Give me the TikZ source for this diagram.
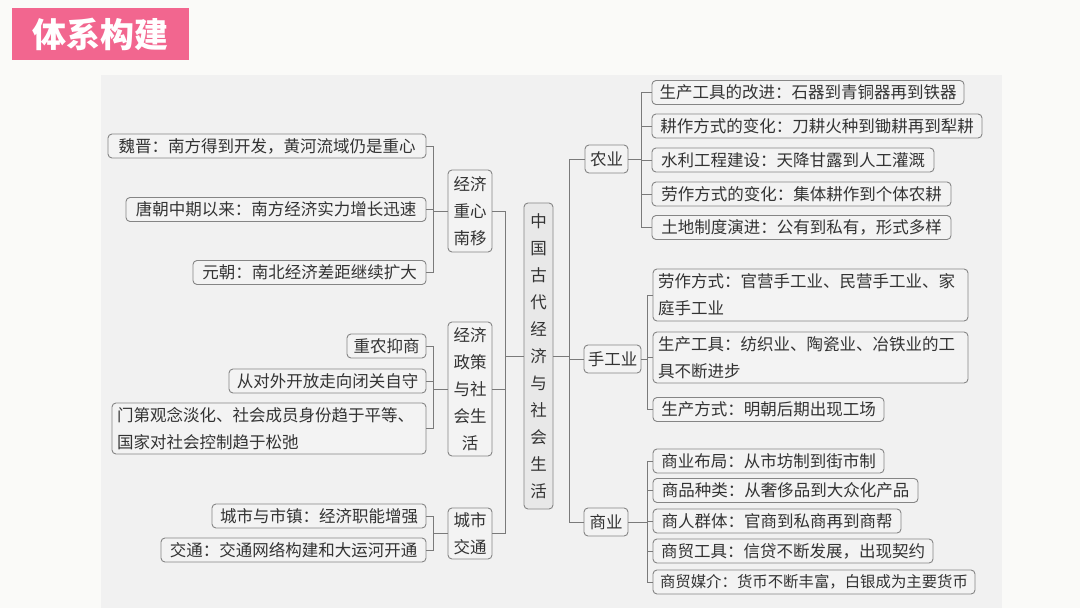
\documentclass[tikz,border=0pt]{standalone}
\usepackage{fontspec}
\setmainfont{Noto Sans CJK SC}
\definecolor{bg}{HTML}{FAFAF8}
\definecolor{panel}{HTML}{F1F1F1}
\definecolor{boxfill}{HTML}{F3F3F3}
\definecolor{centerfill}{HTML}{E8E8E8}
\definecolor{edge}{HTML}{858585}
\definecolor{wire}{HTML}{7A7A7A}
\definecolor{txt}{HTML}{333333}
\definecolor{pink}{HTML}{F2668F}
\tikzset{
  box/.style={draw=edge, line width=0.9pt, rounded corners=4pt, fill=boxfill, inner sep=0pt,
    text=txt, font=\fontsize{16.5}{27}\selectfont},
  leaf/.style={box, minimum height=24},
  multi/.style={box, align=left},
  grp/.style={box, align=center},
  conn/.style={draw=wire, line width=0.9pt}
}
\begin{document}
\begin{tikzpicture}[x=1pt,y=-1pt]
\useasboundingbox (0,0) rectangle (1080,608);
\fill[bg] (0,0) rectangle (1080,608);
\fill[panel] (101,75) rectangle (1002,608);
% title
\node[fill=pink, minimum width=177, minimum height=52, inner sep=0pt, text=white,
  font=\fontsize{34}{34}\selectfont\bfseries] (title) at (100.5,34) {体系构建};
% centre
\node[grp, fill=centerfill, minimum width=29, minimum height=306] (C) at (538.5,356)
  {中\\国\\古\\代\\经\\济\\与\\社\\会\\生\\活};
% left groups
\node[grp, minimum width=44, minimum height=82] (G1) at (470,211) {经济\\重心\\南移};
\node[grp, minimum width=44, minimum height=134] (G2) at (470,389) {经济\\政策\\与社\\会生\\活};
\node[grp, minimum width=44, minimum height=51] (G3) at (470,533.5) {城市\\交通};
% left leaves
\node[leaf, minimum width=318] (A1) at (267,146) {魏晋：南方得到开发，黄河流域仍是重心};
\node[leaf, minimum width=300] (A2) at (276,209.5) {唐朝中期以来：南方经济实力增长迅速};
\node[leaf, minimum width=233] (A3) at (309.5,272.5) {元朝：南北经济差距继续扩大};
\node[leaf, minimum width=79] (B1) at (386.5,346) {重农抑商};
\node[leaf, minimum width=197] (B2) at (327.5,381) {从对外开放走向闭关自守};
\node[multi, text width=304, minimum width=314, minimum height=51] (B3) at (269,428.5)
  {门第观念淡化、社会成员身份趋于平等、\\国家对社会控制趋于松弛};
\node[leaf, minimum width=214] (C1) at (319,516) {城市与市镇：经济职能增强};
\node[leaf, minimum width=265] (C2) at (293.5,550) {交通：交通网络构建和大运河开通};
% right groups
\node[leaf, minimum width=43, minimum height=28] (R1) at (606.5,159) {农业};
\node[leaf, minimum width=57, minimum height=28] (R2) at (612.5,359) {手工业};
\node[leaf, minimum width=44, minimum height=28] (R3) at (606,522) {商业};
% right leaves
\node[leaf, minimum width=312] (N1) at (808,92.5) {生产工具的改进：石器到青铜器再到铁器};
\node[leaf, minimum width=330] (N2) at (817,126) {耕作方式的变化：刀耕火种到锄耕再到犁耕};
\node[leaf, minimum width=282] (N3) at (793,160) {水利工程建设：天降甘露到人工灌溉};
\node[leaf, minimum width=299] (N4) at (801.5,194) {劳作方式的变化：集体耕作到个体农耕};
\node[leaf, minimum width=299] (N5) at (801.5,227.5) {土地制度演进：公有到私有，形式多样};
\node[multi, text width=305, minimum width=315, minimum height=52] (H1) at (810.5,295)
  {劳作方式：官营手工业、民营手工业、家\\庭手工业};
\node[multi, text width=305, minimum width=315, minimum height=51] (H2) at (810.5,357.5)
  {生产工具：纺织业、陶瓷业、冶铁业的工\\具不断进步};
\node[leaf, minimum width=231] (H3) at (768.5,409.5) {生产方式：明朝后期出现工场};
\node[leaf, minimum width=231] (S1) at (768.5,461) {商业布局：从市坊制到街市制};
\node[leaf, minimum width=265] (S2) at (785.5,490.5) {商品种类：从奢侈品到大众化产品};
\node[leaf, minimum width=248] (S3) at (777,521) {商人群体：官商到私商再到商帮};
\node[leaf, minimum width=280] (S4) at (793,551) {商贸工具：信贷不断发展，出现契约};
\node[leaf, minimum width=322, font=\fontsize{15.4}{27}\selectfont] (S5) at (814,582) {商贸媒介：货币不断丰富，白银成为主要货币};
% bus coordinates
\coordinate (busL) at (433,0);
\coordinate (busC) at (505,0);
\coordinate (busR) at (569,0);
\coordinate (busN) at (641.5,0);
\coordinate (busH) at (647,0);
% connectors left
\foreach \a in {A1,A2,A3} \draw[conn] (\a.east) -- (\a.east -| busL) |- (G1.west);
\foreach \a in {B1,B2,B3} \draw[conn] (\a.east) -- (\a.east -| busL) |- (G2.west);
\foreach \a in {C1,C2} \draw[conn] (\a.east) -- (\a.east -| busL) |- (G3.west);
\foreach \g in {G1,G2,G3} \draw[conn] (\g.east) -- (\g.east -| busC) |- (C.west);
% connectors right
\foreach \r in {R1,R2,R3} \draw[conn] (C.east) -- (C.east -| busR) |- (\r.west);
\foreach \n in {N1,N2,N3,N4,N5} \draw[conn] (R1.east) -- (R1.east -| busN) |- (\n.west);
\foreach \n in {H1,H2,H3} \draw[conn] (R2.east) -- (R2.east -| busH) |- (\n.west);
\foreach \n in {S1,S2,S3,S4,S5} \draw[conn] (R3.east) -- (R3.east -| busH) |- (\n.west);
\end{tikzpicture}
\end{document}
